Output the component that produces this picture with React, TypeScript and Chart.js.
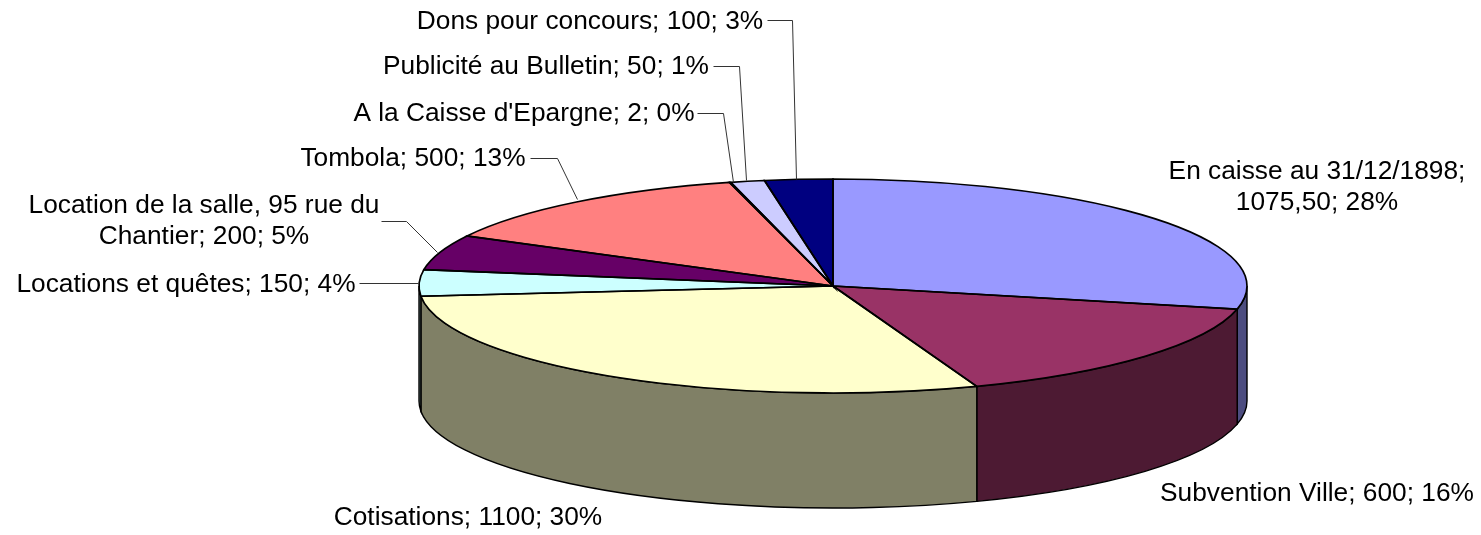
import React, { useEffect, useRef } from "react";
import { Chart, registerables } from "chart.js";

Chart.register(...registerables);

const categories = [
  "En caisse au 31/12/1898",
  "Subvention Ville",
  "Cotisations",
  "Locations et quêtes",
  "Location de la salle, 95 rue du Chantier",
  "Tombola",
  "A la Caisse d'Epargne",
  "Publicité au Bulletin",
  "Dons pour concours",
];
const valueLabels = ["1075,50", "600", "1100", "150", "200", "500", "2", "50", "100"];
const values = [1075.5, 600, 1100, 150, 200, 500, 2, 50, 100];
const percents = ["28%", "16%", "30%", "4%", "5%", "13%", "0%", "1%", "3%"];
const colors = ["#9999FF", "#993366", "#FFFFCC", "#CCFFFF", "#660066", "#FF8080", "#0066CC", "#CCCCFF", "#000080"];
const wallColors = ["#4D4D80", "#4D1A33", "#808066", "#668080", "#330033", "#804040", "#003366", "#666680", "#000040"];

// Text lines of each label, and where they sit
const labelLines = [
  ["En caisse au 31/12/1898;", "1075,50; 28%"],
  ["Subvention Ville; 600; 16%"],
  ["Cotisations; 1100; 30%"],
  ["Locations et quêtes; 150; 4%"],
  ["Location de la salle, 95 rue du", "Chantier; 200; 5%"],
  ["Tombola; 500; 13%"],
  ["A la Caisse d'Epargne; 2; 0%"],
  ["Publicité au Bulletin; 50; 1%"],
  ["Dons pour concours; 100; 3%"],
];
const labelAnchor: [number, number][] = [
  [1317, 172],
  [1317, 494],
  [468, 518],
  [186, 285],
  [204, 206],
  [413, 159],
  [524, 114],
  [546, 67],
  [590, 22],
];
const leaders: number[][][] = [
  [],
  [],
  [],
  [[359, 283], [418, 283]],
  [[381, 221], [406, 221], [437, 252]],
  [[530, 158], [557, 158], [577, 199]],
  [[697, 113], [723, 113], [733, 182]],
  [[713, 66], [739, 66], [746, 180]],
  [[767, 20], [792, 20], [796, 179]],
];

const CX = 833;
const CY = 286;
const RX = 414;
const RY = 107;
const DEPTH = 115;
const FONT = '26.3px "Liberation Sans", Arial, sans-serif';

const pie3d = {
  id: "pie3d",
  beforeDatasetsDraw(chart: any) {
    const ctx = chart.ctx as CanvasRenderingContext2D;
    const arcs = chart.getDatasetMeta(0).data as any[];
    const a0 = arcs[0];
    const k = { sx: RX / a0.outerRadius, sy: RY / a0.outerRadius };
    const px = (t: number) => CX + RX * Math.cos(t);
    const py = (t: number) => CY + RY * Math.sin(t);

    // Side wall: the visible part of each slice's rim
    arcs.forEach((arc, i) => {
      const s = Math.max(arc.startAngle, 0);
      const e = Math.min(arc.endAngle, Math.PI);
      if (e <= s) return;
      ctx.beginPath();
      ctx.ellipse(CX, CY, RX, RY, 0, s, e);
      ctx.lineTo(px(e), py(e) + DEPTH);
      ctx.ellipse(CX, CY + DEPTH, RX, RY, 0, e, s, true);
      ctx.closePath();
      ctx.fillStyle = wallColors[i];
      ctx.fill();
      ctx.strokeStyle = "#000";
      ctx.lineWidth = 1.4;
      ctx.stroke();
    });

    // The top face is the library's own arcs, flattened into the ellipse
    ctx.save();
    ctx.translate(CX, CY);
    ctx.scale(k.sx, k.sy);
    ctx.translate(-a0.x, -a0.y);
  },
  afterDatasetsDraw(chart: any) {
    const ctx = chart.ctx as CanvasRenderingContext2D;
    ctx.restore();
    const arcs = chart.getDatasetMeta(0).data as any[];

    // Slice outlines at a constant width
    ctx.strokeStyle = "#000";
    ctx.lineWidth = 1.7;
    arcs.forEach((arc) => {
      ctx.beginPath();
      ctx.moveTo(CX, CY);
      ctx.ellipse(CX, CY, RX, RY, 0, arc.startAngle, arc.endAngle);
      ctx.closePath();
      ctx.stroke();
    });

    // Leader lines
    ctx.strokeStyle = "#333";
    ctx.lineWidth = 1;
    leaders.forEach((pts) => {
      if (!pts.length) return;
      ctx.beginPath();
      pts.forEach(([x, y], j) => (j ? ctx.lineTo(x + 0.5, y + 0.5) : ctx.moveTo(x + 0.5, y + 0.5)));
      ctx.stroke();
    });

    // Labels
    ctx.fillStyle = "#000";
    ctx.font = FONT;
    ctx.textBaseline = "middle";
    ctx.textAlign = "center";
    labelLines.forEach((lines, i) => {
      const [x, y] = labelAnchor[i];
      lines.forEach((line, j) => ctx.fillText(line, x, y + j * 31));
    });
  },
};

export default function App() {
  const ref = useRef<HTMLCanvasElement>(null);
  useEffect(() => {
    document.body.style.margin = "0";
    document.body.style.background = "#fff";
    const chart = new Chart(ref.current!, {
      type: "pie",
      data: {
        labels: categories.map((c, i) => `${c}; ${valueLabels[i]}; ${percents[i]}`),
        datasets: [{ data: values, backgroundColor: colors, borderWidth: 0, clip: false }],
      },
      options: {
        responsive: false,
        animation: false,
        rotation: 0,
        plugins: { legend: { display: false }, tooltip: { enabled: false } },
      },
      plugins: [pie3d],
    } as any);
    return () => chart.destroy();
  }, []);
  return <canvas ref={ref} width={1481} height={535} style={{ display: "block" }} />;
}
